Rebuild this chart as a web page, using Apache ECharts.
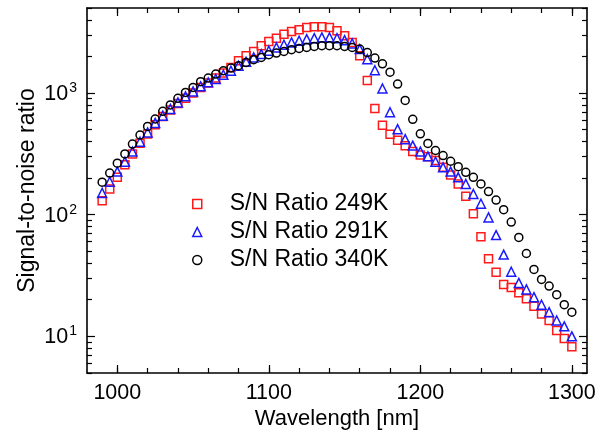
<!DOCTYPE html>
<html>
<head>
<meta charset="utf-8">
<script src="https://cdn.jsdelivr.net/npm/echarts@6/dist/echarts.min.js"></script>
<style>
html,body{margin:0;padding:0;background:#fff;}
#chart{width:606px;height:436px;}
</style>
</head>
<body>
<div id="chart"></div>
<script>
const wavelength = [990,995,1000,1005,1010,1015,1020,1025,1030,1035,1040,1045,1050,1055,1060,1065,1070,1075,1080,1085,1090,1095,1100,1105,1110,1115,1120,1125,1130,1135,1140,1145,1150,1155,1160,1165,1170,1175,1180,1185,1190,1195,1200,1205,1210,1215,1220,1225,1230,1235,1240,1245,1250,1255,1260,1265,1270,1275,1280,1285,1290,1295,1300];
const sn249K = [130,163,203,258,316,386,461,549,640,725,822,904,1000,1113,1208,1328,1460,1624,1842,2025,2198,2450,2655,2826,3048,3206,3310,3460,3500,3500,3460,3250,2955,2600,2023,1270,745,543,458,410,368,330,310,300,279,245,212,179,142,102,66,43.4,33.7,26.7,25.2,22.8,20.4,17.7,15.3,13.5,11.2,9.6,8.2];
const sn291K = [151,187,226,273,330,398,475,568,652,740,838,939,1032,1135,1224,1304,1414,1525,1676,1807,1963,2090,2225,2370,2494,2606,2690,2775,2826,2864,2864,2826,2722,2558,2298,1900,1540,1090,695,505,418,370,330,302,273,245,226,203,179,148,123,95,68,47,34,27.5,24.3,21,18.2,15.8,13.5,12.1,10];
const sn340K = [185,220,265,316,381,452,532,612,708,798,904,1012,1113,1239,1328,1432,1525,1604,1676,1785,1880,1963,2065,2130,2198,2270,2328,2370,2415,2450,2450,2450,2415,2370,2298,2150,1940,1740,1485,1185,870,608,462,385,337,306,275,248,223,203,179,155,132,110,87,65,48,35.5,29.4,25.9,22,18.2,15.8];

const seriesNames = ['S/N Ratio 249K','S/N Ratio 291K','S/N Ratio 340K'];
const xLabelValues = [1000,1100,1200,1300];
const xMinorTicks = [1000,1020,1040,1060,1080,1100,1120,1140,1160,1180,1200,1220,1240,1260,1280,1300];
const yLabelValues = [10,100,1000];
const yMinorTicks = [5,6,7,8,9,20,30,40,50,60,70,80,90,200,300,400,500,600,700,800,900,2000,3000,4000,5000];
const xRange = [980,1310];
const yRange = [5,5000];

const FONT = 'Liberation Sans, Arial, sans-serif';
const axisColor = '#000';
const lineW = 1.6;

function pairs(ys){ return wavelength.map((x,i)=>[x,ys[i]]); }

function xAxisDef(pos, ticks, len, main){
  return {
    type:'value', min:xRange[0], max:xRange[1], position:pos,
    axisLine:{show:!!main, lineStyle:{color:axisColor,width:lineW}},
    axisTick:{show:true, inside:true, length:len, customValues:ticks, lineStyle:{color:axisColor,width:1.2}},
    axisLabel: (main && pos==='bottom') ? {show:true, customValues:xLabelValues, formatter:v=>String(v), fontSize:21.5, fontFamily:FONT, color:'#000', margin:9} : {show:false},
    splitLine:{show:false},
    name: (main && pos==='bottom') ? 'Wavelength [nm]' : '',
    nameLocation:'middle', nameGap:35, nameMoveOverlap:false,
    nameTextStyle:{fontSize:22, fontFamily:FONT, color:'#000'}
  };
}
function yAxisDef(pos, ticks, len, main){
  return {
    type:'log', logBase:10, min:yRange[0], max:yRange[1], position:pos,
    axisLine:{show:!!main, lineStyle:{color:axisColor,width:lineW}},
    axisTick:{show:true, inside:true, length:len, customValues:ticks, lineStyle:{color:axisColor,width:1.2}},
    axisLabel: (main && pos==='left') ? {
      show:true, customValues:yLabelValues, margin:10,
      formatter: v => '{b|10}{s|' + Math.round(Math.log10(v)) + '}',
      rich:{
        b:{fontSize:21.5, fontFamily:FONT, color:'#000', lineHeight:24, verticalAlign:'bottom'},
        s:{fontSize:14, fontFamily:FONT, color:'#000', lineHeight:24, verticalAlign:'top', padding:[0,0,0,1]}
      }
    } : {show:false},
    splitLine:{show:false}, minorTick:{show:false},
    name: (main && pos==='left') ? 'Signal-to-noise ratio' : '',
    nameLocation:'middle', nameGap:48, nameRotate:90, nameMoveOverlap:false,
    nameTextStyle:{fontSize:23, fontFamily:FONT, color:'#000'}
  };
}

const colors = ['#ff1a1a','#1a1aff','#000000'];
const symbols = ['rect','triangle','circle'];
const sizes = [8,9,8];
const values = [sn249K, sn291K, sn340K];

const chart = echarts.init(document.getElementById('chart'), null, {renderer:'canvas'});
chart.setOption({
  animation:false,
  backgroundColor:'#fff',
  grid:{left:87, right:19, top:8, bottom:63, containLabel:false, outerBoundsMode:'none'},
  xAxis:[
    xAxisDef('bottom', xLabelValues, 8, true),
    xAxisDef('bottom', xMinorTicks, 5, false),
    xAxisDef('top', xLabelValues, 8, true),
    xAxisDef('top', xMinorTicks, 5, false)
  ],
  yAxis:[
    yAxisDef('left', yLabelValues, 8, true),
    yAxisDef('left', yMinorTicks, 5, false),
    yAxisDef('right', yLabelValues, 8, true),
    yAxisDef('right', yMinorTicks, 5, false)
  ],
  legend:{
    orient:'vertical', left:187, top:187, padding:5, itemWidth:9, itemHeight:9, itemGap:4,
    textStyle:{fontSize:23, fontFamily:FONT, color:'#000', lineHeight:24, padding:[0,0,0,23]},
    data: seriesNames.map((n,i)=>({name:n, icon:symbols[i], itemStyle:{color:'transparent', borderColor:colors[i], borderWidth:1.5}}))
  },
  series: seriesNames.map((n,i)=>({
    name:n, type:'scatter', xAxisIndex:0, yAxisIndex:0,
    symbol:symbols[i], symbolSize:sizes[i],
    itemStyle:{color:'transparent', borderColor:colors[i], borderWidth:1.5, opacity:1},
    emphasis:{disabled:true},
    data: pairs(values[i])
  }))
});
</script>
</body>
</html>
